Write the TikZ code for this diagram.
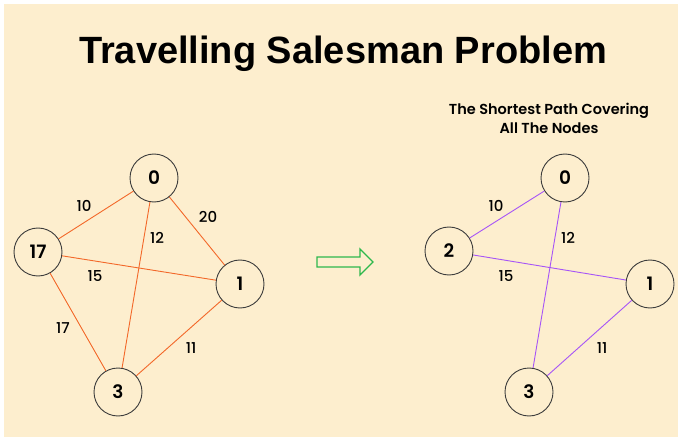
\documentclass[tikz,border=0pt]{standalone}
\usepackage{fontspec}
\setmainfont{Poppins}
\newfontfamily\popmed{Poppins Medium}
\newfontfamily\popsemi{Poppins SemiBold}
\newfontfamily\titlefont{Liberation Sans}
\definecolor{bgcream}{RGB}{253,238,206}
\definecolor{edgeorange}{RGB}{243,104,41}
\definecolor{edgepurple}{RGB}{166,84,247}
\definecolor{arrowgreen}{RGB}{46,184,76}
\definecolor{ringgray}{RGB}{60,60,60}
\begin{document}
\begin{tikzpicture}[x=1pt,y=-1pt,
  city/.style={circle,draw=ringgray,line width=0.9pt,minimum size=48pt,inner sep=0pt,font=\popsemi\fontsize{18.5}{18.5}\selectfont},
  orangeedge/.style={draw=edgeorange,line width=0.9pt},
  purpleedge/.style={draw=edgepurple,line width=0.9pt},
  weight/.style={font=\popmed\fontsize{15}{15}\selectfont,inner sep=0pt}]
\fill[white] (0,0) rectangle (678,441);
\fill[bgcream] (4,4) rectangle (678,437);
\useasboundingbox (0,0) rectangle (678,441);
\node[font=\titlefont\bfseries\fontsize{38}{38}\selectfont,anchor=base] (title) at (343,64) {Travelling Salesman Problem};
\node[font=\popsemi\fontsize{14.5}{19}\selectfont,align=center] (sub) at (549,118.5) {The Shortest Path Covering\\All The Nodes};
% left graph
\node[city] (a0) at (154,178) {0};
\node[city] (a17) at (38,252) {17};
\node[city] (a1) at (240,284) {1};
\node[city] (a3) at (118,392) {3};
\draw[orangeedge] (a17) -- (a0);
\draw[orangeedge] (a0) -- (a1);
\draw[orangeedge] (a0) -- (a3);
\draw[orangeedge] (a17) -- (a1);
\draw[orangeedge] (a17) -- (a3);
\draw[orangeedge] (a1) -- (a3);
\node[weight] (w10) at (84,206) {10};
\node[weight] (w20) at (208,217) {20};
\node[weight] (w12) at (157,238) {12};
\node[weight] (w15) at (95,276) {15};
\node[weight] (w17) at (63,328) {17};
\node[weight] (w11) at (191,348) {11};
% arrow
\draw[arrowgreen,line width=1.4pt,line join=miter] (317,257) -- (360,257) -- (360,249) -- (373,262) -- (360,275) -- (360,267) -- (317,267) -- cycle;
% right graph
\node[city] (b0) at (565,178) {0};
\node[city] (b2) at (449,251) {2};
\node[city] (b1) at (650,284) {1};
\node[city] (b3) at (529,392) {3};
\draw[purpleedge] (b2) -- (b0);
\draw[purpleedge] (b2) -- (b1);
\draw[purpleedge] (b0) -- (b3);
\draw[purpleedge] (b1) -- (b3);
\node[weight] (v10) at (496,206) {10};
\node[weight] (v12) at (568,238) {12};
\node[weight] (v15) at (506,276) {15};
\node[weight] (v11) at (602,348) {11};
\end{tikzpicture}
\end{document}
